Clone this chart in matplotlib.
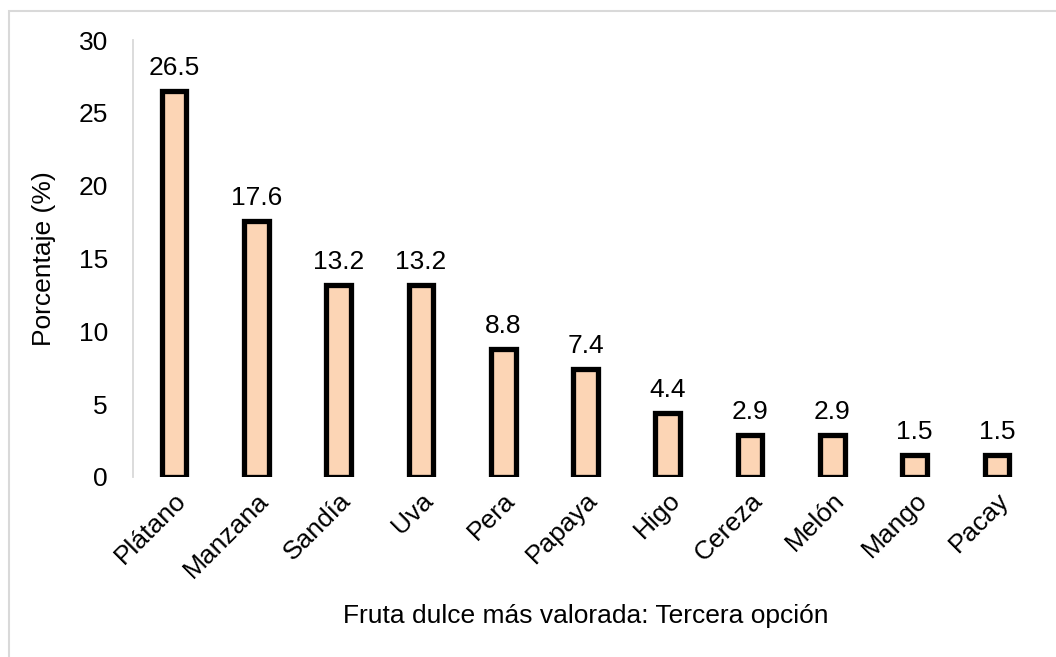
import matplotlib
matplotlib.use('Agg')
import matplotlib.pyplot as plt
from matplotlib.patches import Rectangle

# data
frutas = ['Plátano', 'Manzana', 'Sandía', 'Uva', 'Pera', 'Papaya',
          'Higo', 'Cereza', 'Melón', 'Mango', 'Pacay']
porcentaje = [26.5, 17.6, 13.2, 13.2, 8.8, 7.4, 4.4, 2.9, 2.9, 1.5, 1.5]
yticks = [0, 5, 10, 15, 20, 25, 30]

plt.rcParams['font.family'] = ['Liberation Sans', 'DejaVu Sans']

fig = plt.figure(figsize=(10.56, 6.57), dpi=100)
ax = fig.add_axes([133 / 1056, 1 - 477 / 657, (1038 - 133) / 1056, (477 - 40) / 657])

x = list(range(len(frutas)))
bars = ax.bar(x, porcentaje, width=0.30, color='#FCD5B5',
              edgecolor='black', linewidth=3.8, zorder=3)

for xi, v in zip(x, porcentaje):
    ax.annotate(f'{v:.1f}', (xi, v), xytext=(0, 8), textcoords='offset points',
                ha='center', va='bottom', fontsize=19)

ax.set_xlim(-0.5, len(frutas) - 0.5)
ax.set_ylim(0, 30)
ax.set_yticks(yticks)
ax.set_xticks(x)
ax.set_xticklabels(frutas, rotation=45, ha='right', rotation_mode='anchor',
                   fontsize=19)
ax.tick_params(axis='y', length=0, pad=18, labelsize=19)
ax.tick_params(axis='x', length=0, pad=8)

for s in ['top', 'right', 'bottom']:
    ax.spines[s].set_visible(False)
ax.spines['left'].set_color('#D9D9D9')
ax.spines['left'].set_linewidth(1.3)

ax.set_ylabel('Porcentaje (%)', fontsize=19, labelpad=16)
ax.set_xlabel('Fruta dulce más valorada: Tercera opción', fontsize=19, labelpad=16)

# chart area border (cropped at right and bottom)
top = 1 - 10.5 / 657
fig.patches.append(Rectangle((8.5 / 1056, -0.2), 1.2, top + 0.2,
                             transform=fig.transFigure, fill=False,
                             edgecolor='#D9D9D9', linewidth=1.5))

fig.savefig('out.png', dpi=100)
